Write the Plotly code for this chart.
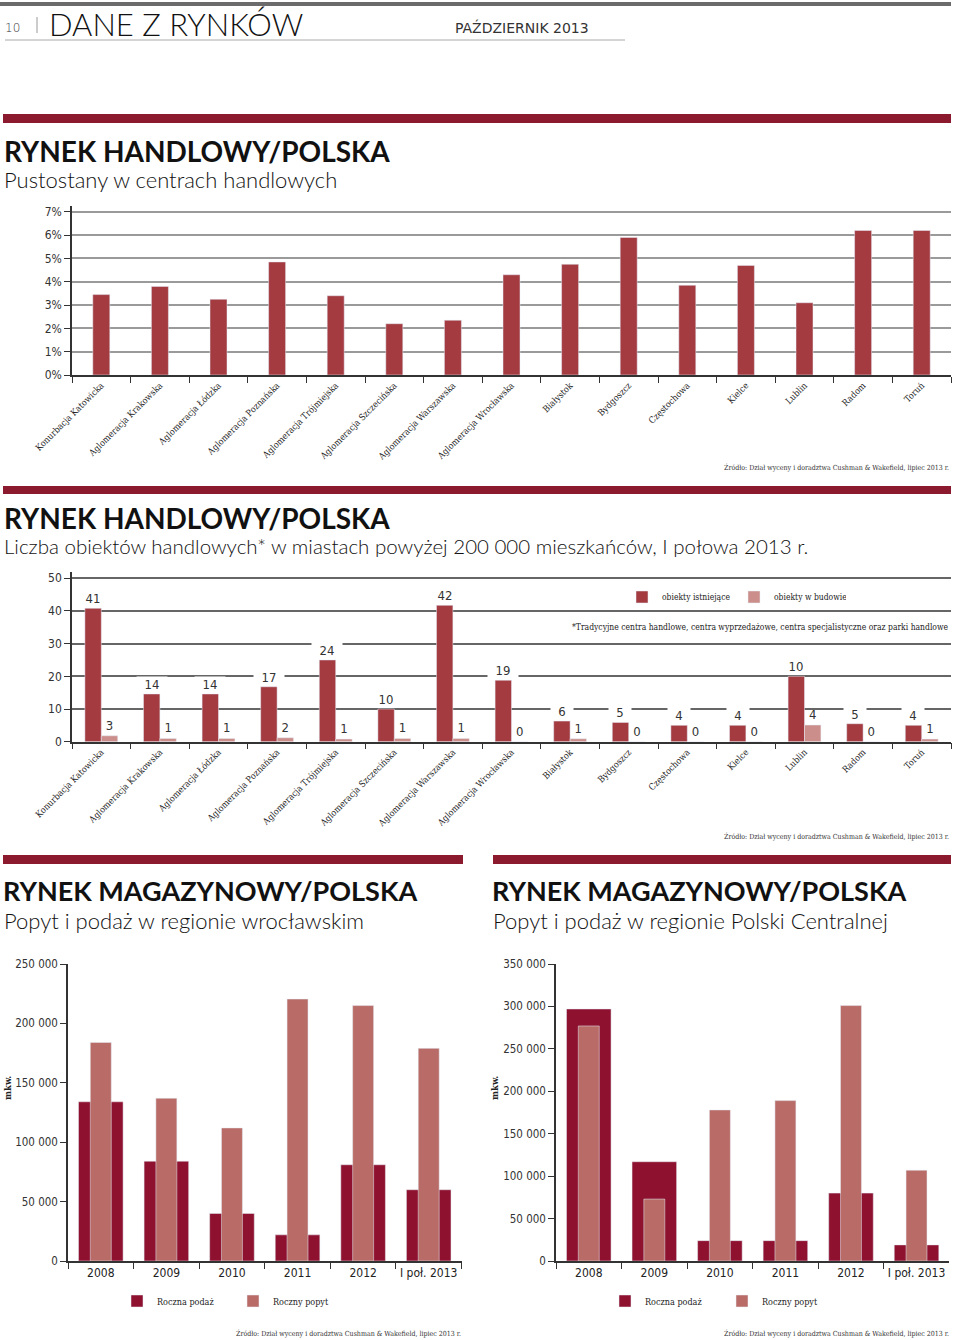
import plotly.graph_objects as go

W, H = 960, 1340

# ---------------- data ----------------
cities = ["Konurbacja Katowicka", "Aglomeracja Krakowska", "Aglomeracja Łódzka",
          "Aglomeracja Poznańska", "Aglomeracja Trójmiejska", "Aglomeracja Szczecińska",
          "Aglomeracja Warszawska", "Aglomeracja Wrocławska", "Białystok", "Bydgoszcz",
          "Częstochowa", "Kielce", "Lublin", "Radom", "Toruń"]

vacancy_pct = [3.45, 3.8, 3.25, 4.85, 3.4, 2.2, 2.35, 4.3, 4.75, 5.9, 3.85, 4.7, 3.1, 6.2, 6.2]

existing_bar = [40.8, 14.6, 14.6, 16.8, 25.0, 10.0, 41.7, 18.8, 6.3, 5.9, 5.0, 5.0, 20.0, 5.5, 5.0]
existing_lbl = [41, 14, 14, 17, 24, 10, 42, 19, 6, 5, 4, 4, 10, 5, 4]
building_bar = [1.8, 1.0, 1.0, 1.2, 0.8, 1.0, 1.0, 0.0, 0.9, 0.0, 0.0, 0.0, 5.1, 0.0, 0.8]
building_lbl = [3, 1, 1, 2, 1, 1, 1, 0, 1, 0, 0, 0, 4, 0, 1]

years = ["2008", "2009", "2010", "2011", "2012", "I poł. 2013"]
wro_supply = [134000, 84000, 40000, 22000, 81000, 60000]
wro_demand = [184000, 137000, 112000, 220500, 215000, 179000]
cen_supply = [297000, 117000, 24000, 24000, 80000, 19000]
cen_demand = [277000, 73000, 178000, 189000, 301000, 107000]

vac_ticks = [0, 1, 2, 3, 4, 5, 6, 7]
vac_ticktext = ["0%", "1%", "2%", "3%", "4%", "5%", "6%", "7%"]
cnt_ticks = [0, 10, 20, 30, 40, 50]
wro_ticks = [0, 50000, 100000, 150000, 200000, 250000]
cen_ticks = [0, 50000, 100000, 150000, 200000, 250000, 300000, 350000]

# ---------------- styling ----------------
RED_BAR = "#A33B41"
RED_LIGHT = "#CC8E8B"
SUPPLY = "#8E1230"
DEMAND = "#B96C67"
SECTION = "#8C1A2E"

NARROW = "Liberation Sans Narrow, DejaVu Sans Condensed, Roboto, sans-serif"
SERIF = "DejaVu Serif Condensed, Liberation Serif, serif"
TITLE = "Lato, Open Sans, sans-serif"

CAT_PX = (951 - 72) / len(cities)   # pixel width of one category in charts 1-2
BAR_W = 0.28


def X(px):
    return px / W


def Y(py):
    return 1 - py / H


fig = go.Figure()

# chart 1: vacancy
fig.add_trace(go.Bar(x=cities, y=vacancy_pct, marker_color=RED_BAR, width=0.29,
                     xaxis="x", yaxis="y", showlegend=False))

# chart 2: number of objects
fig.add_trace(go.Bar(x=cities, y=existing_bar, name="obiekty istniejące",
                     marker_color=RED_BAR, width=BAR_W, offset=-BAR_W,
                     xaxis="x2", yaxis="y2", legend="legend"))
fig.add_trace(go.Bar(x=cities, y=building_bar, name="obiekty w budowie",
                     marker_color=RED_LIGHT, width=BAR_W, offset=0.0,
                     text=[str(v) for v in building_lbl], textposition="outside",
                     textfont=dict(family=NARROW, size=13, color="#333"),
                     constraintext="none", cliponaxis=False,
                     xaxis="x2", yaxis="y2", legend="legend"))

# chart 3: Wrocław
fig.add_trace(go.Bar(x=years, y=wro_supply, name="Roczna podaż", marker_color=SUPPLY,
                     width=0.68, xaxis="x3", yaxis="y3", legend="legend2"))
fig.add_trace(go.Bar(x=years, y=wro_demand, name="Roczny popyt", marker_color=DEMAND,
                     width=0.32, xaxis="x3", yaxis="y3", legend="legend2"))

# chart 4: Central Poland
fig.add_trace(go.Bar(x=years, y=cen_supply, name="Roczna podaż", marker_color=SUPPLY,
                     width=0.68, xaxis="x4", yaxis="y4", legend="legend3"))
fig.add_trace(go.Bar(x=years, y=cen_demand, name="Roczny popyt", marker_color=DEMAND,
                     width=0.32, xaxis="x4", yaxis="y4", legend="legend3"))

cat_font = dict(family=SERIF, size=9, color="#222")
num_font = dict(family=NARROW, size=12, color="#333")
big_font = dict(family=NARROW, size=11.5, color="#333")

common_x = dict(showline=True, linecolor="#333", linewidth=1.5, ticks="outside",
                ticklen=6, tickcolor="#333", tickwidth=1, tickson="boundaries",
                showgrid=False, zeroline=False, fixedrange=True, automargin=False)
common_y = dict(showline=True, linecolor="#333", linewidth=1.5, ticks="outside",
                ticklen=6, tickcolor="#333", tickwidth=1, zeroline=False,
                fixedrange=True, automargin=False)

fig.update_layout(
    width=W, height=H, autosize=False,
    margin=dict(l=0, r=0, t=0, b=0, autoexpand=False),
    paper_bgcolor="white", plot_bgcolor="white",
    barmode="overlay", separators=", ",
    xaxis=dict(domain=[X(72), X(951)], anchor="y", tickangle=-45, tickfont=cat_font,
               **common_x),
    yaxis=dict(domain=[Y(375), Y(206)], anchor="x", range=[0, 7.25], tickvals=vac_ticks,
               ticktext=vac_ticktext, showgrid=True, gridcolor="#9a9a9a", gridwidth=1.5,
               tickfont=num_font, **common_y),
    xaxis2=dict(domain=[X(72), X(951)], anchor="y2", tickangle=-45, tickfont=cat_font,
                **common_x),
    yaxis2=dict(domain=[Y(741.7), Y(572)], anchor="x2", range=[0, 51.9], tickvals=cnt_ticks,
                showgrid=True, gridcolor="#666", gridwidth=1.5, tickfont=num_font,
                **common_y),
    xaxis3=dict(domain=[X(68), X(461.5)], anchor="y3", tickangle=0,
                tickfont=dict(family=NARROW, size=12, color="#222"), **common_x),
    yaxis3=dict(domain=[Y(1261), Y(964)], anchor="x3", range=[0, 250000], tickvals=wro_ticks,
                tickformat=",d", showgrid=False, tickfont=big_font, **common_y),
    xaxis4=dict(domain=[X(556), X(949.3)], anchor="y4", tickangle=0,
                tickfont=dict(family=NARROW, size=12, color="#222"), **common_x),
    yaxis4=dict(domain=[Y(1261), Y(964)], anchor="x4", range=[0, 350000], tickvals=cen_ticks,
                tickformat=",d", showgrid=False, tickfont=big_font, **common_y),
    legend=dict(x=X(622), y=Y(597), xanchor="left", yanchor="middle", orientation="h",
                entrywidth=67, entrywidthmode="pixels", bgcolor="rgba(0,0,0,0)",
                font=dict(family=SERIF, size=8.5, color="#222"), traceorder="normal"),
    legend2=dict(x=X(117), y=Y(1301), xanchor="left", yanchor="middle", orientation="h",
                 entrywidth=71, entrywidthmode="pixels", bgcolor="rgba(0,0,0,0)",
                 font=dict(family=SERIF, size=9, color="#222"), traceorder="normal"),
    legend3=dict(x=X(605), y=Y(1301), xanchor="left", yanchor="middle", orientation="h",
                 entrywidth=72, entrywidthmode="pixels", bgcolor="rgba(0,0,0,0)",
                 font=dict(family=SERIF, size=9, color="#222"), traceorder="normal"),
)

shapes = [
    # header
    dict(type="rect", xref="paper", yref="paper", x0=0, x1=X(951), y0=Y(6), y1=Y(2),
         fillcolor="#6b6b6b", line_width=0),
    dict(type="line", xref="paper", yref="paper", x0=X(37), x1=X(37), y0=Y(33), y1=Y(17),
         line=dict(color="#999", width=1)),
    dict(type="line", xref="paper", yref="paper", x0=X(5), x1=X(625), y0=Y(40), y1=Y(40),
         line=dict(color="#aaa", width=1)),
    # section bars
    dict(type="rect", xref="paper", yref="paper", x0=X(3), x1=X(951), y0=Y(123), y1=Y(114),
         fillcolor=SECTION, line_width=0),
    dict(type="rect", xref="paper", yref="paper", x0=X(3), x1=X(951), y0=Y(494), y1=Y(486),
         fillcolor=SECTION, line_width=0),
    dict(type="rect", xref="paper", yref="paper", x0=X(3), x1=X(463), y0=Y(864), y1=Y(855),
         fillcolor=SECTION, line_width=0),
    dict(type="rect", xref="paper", yref="paper", x0=X(493), x1=X(951), y0=Y(864), y1=Y(855),
         fillcolor=SECTION, line_width=0),
]

src = "Źródło: Dział wyceny i doradztwa Cushman & Wakefield, lipiec 2013 r."


def ann(text, x, y, size, family, color="#111", xanchor="left", yanchor="middle",
        weight="normal", angle=0):
    return dict(text=text, x=X(x), y=Y(y), xref="paper", yref="paper", showarrow=False,
                xanchor=xanchor, yanchor=yanchor, textangle=angle,
                font=dict(size=size, family=family, color=color, weight=weight))


annotations = [
    ann("10", 3, 28, 12, "DejaVu Sans", "#333", weight=300),
    ann("DANE Z RYNKÓW", 47, 24, 31, "Lato", "#111", weight=300),
    ann("PAŹDZIERNIK 2013", 453, 28, 14, "DejaVu Sans", "#333"),
    ann("RYNEK HANDLOWY/POLSKA", 2, 151, 28, TITLE, "#111", weight="bold"),
    ann("Pustostany w centrach handlowych", 2, 180, 22, TITLE, "#111", weight=300),
    ann(src, 951, 467, 7, SERIF, "#333", xanchor="right"),
    ann("RYNEK HANDLOWY/POLSKA", 2, 518, 28, TITLE, "#111", weight="bold"),
    ann("Liczba obiektów handlowych* w miastach powyżej 200 000 mieszkańców, I połowa 2013 r.",
        2, 546, 20.5, TITLE, "#111", weight=300),
    ann("*Tradycyjne centra handlowe, centra wyprzedażowe, centra specjalistyczne oraz parki handlowe",
        951, 627, 8.5, SERIF, "#222", xanchor="right"),
    ann(src, 951, 836, 7, SERIF, "#333", xanchor="right"),
    ann("RYNEK MAGAZYNOWY/POLSKA", 1, 890, 27, TITLE, "#111", weight="bold"),
    ann("Popyt i podaż w regionie wrocławskim", 2, 920, 22, TITLE, "#111", weight=300),
    ann("RYNEK MAGAZYNOWY/POLSKA", 490, 890, 27, TITLE, "#111", weight="bold"),
    ann("Popyt i podaż w regionie Polski Centralnej", 491, 920, 22, TITLE, "#111", weight=300),
    ann("mkw.", 7, 1088, 9.5, SERIF, "#222", xanchor="center", angle=-90, weight="bold"),
    ann("mkw.", 494, 1088, 9.5, SERIF, "#222", xanchor="center", angle=-90, weight="bold"),
    ann(src, 463, 1333, 7, SERIF, "#333", xanchor="right"),
    ann(src, 951, 1333, 7, SERIF, "#333", xanchor="right"),
]

# value labels of existing objects (white box breaks the gridlines, as in the original)
for city, h, lbl in zip(cities, existing_bar, existing_lbl):
    txt = str(lbl)
    annotations.append(dict(
        text=txt, x=city, y=h, xref="x2", yref="y2", showarrow=False,
        xanchor="center", yanchor="bottom", xshift=-BAR_W / 2 * CAT_PX, yshift=1,
        bgcolor="white", borderpad=0, width=8 * len(txt) + 14, align="center",
        font=dict(family=NARROW, size=13, color="#333")))

fig.update_layout(shapes=shapes, annotations=annotations)

fig.write_html("out.html")
